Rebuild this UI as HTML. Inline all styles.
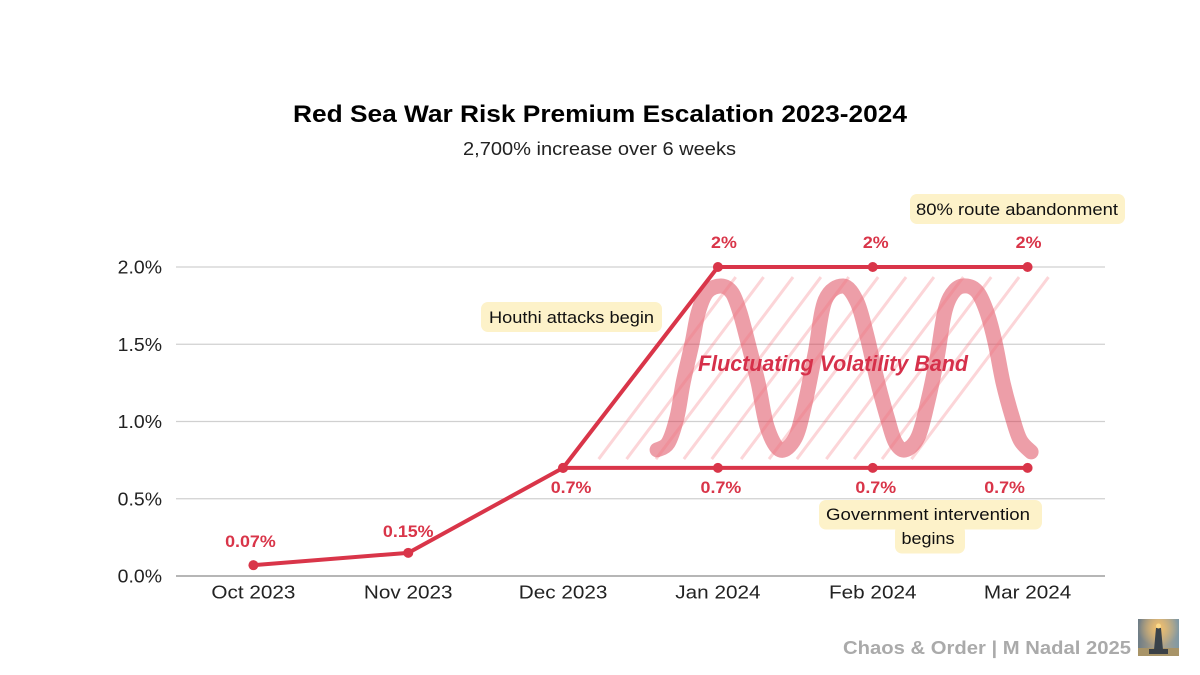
<!DOCTYPE html>
<html lang="en">
<head>
<meta charset="utf-8">
<title>Red Sea War Risk Premium Escalation 2023-2024</title>
<style>
html,body{margin:0;padding:0;background:#fff;width:1200px;height:675px;overflow:hidden}
svg{display:block}
text{font-family:"Liberation Sans",sans-serif}
</style>
</head>
<body>
<svg id="chart" width="1200" height="675" viewBox="0 0 1200 675" xmlns="http://www.w3.org/2000/svg">
  <defs>
    <linearGradient id="thumbSky" x1="0" y1="0" x2="1" y2="0">
      <stop offset="0" stop-color="#6d7c86"/><stop offset="0.5" stop-color="#b9a686"/><stop offset="1" stop-color="#7f98a4"/>
    </linearGradient>
    <radialGradient id="thumbGlow" cx="0.5" cy="0.25" r="0.5">
      <stop offset="0" stop-color="#f6c26b" stop-opacity="0.95"/><stop offset="1" stop-color="#f6c26b" stop-opacity="0"/>
    </radialGradient>
  </defs>
  <rect width="1200" height="675" fill="#ffffff"/>
  <text x="293" y="122" font-size="24" font-weight="700" fill="#000" textLength="614" lengthAdjust="spacingAndGlyphs">Red Sea War Risk Premium Escalation 2023-2024</text>
  <text x="463" y="155" font-size="18" fill="#222" textLength="273" lengthAdjust="spacingAndGlyphs">2,700% increase over 6 weeks</text>
  <g id="grid"></g>
  <g id="yticks"></g>
  <g id="xticks"></g>
  <g id="wave"></g>
  <g id="hatch"></g>
  <g id="lines"></g>
  <g id="points"></g>
  <g id="labels"></g>
  <text x="698" y="371" font-size="22" font-weight="700" font-style="italic" fill="#d6304a" textLength="270" lengthAdjust="spacingAndGlyphs">Fluctuating Volatility Band</text>

  <g>
    <rect x="481" y="302" width="181" height="30" rx="7" fill="#fdf2c9"/>
    <text x="489" y="323" font-size="16.5" fill="#111" textLength="165" lengthAdjust="spacingAndGlyphs">Houthi attacks begin</text>
  </g>
  <g>
    <rect x="910" y="194" width="215" height="30" rx="7" fill="#fdf2c9"/>
    <text x="916" y="215" font-size="16.5" fill="#111" textLength="202" lengthAdjust="spacingAndGlyphs">80% route abandonment</text>
  </g>
  <g>
    <rect x="819" y="500" width="223" height="29.5" rx="7" fill="#fdf2c9"/>
    <rect x="895" y="525" width="70" height="28.5" rx="7" fill="#fdf2c9"/>
    <text x="826" y="520" font-size="16.5" fill="#111" textLength="204" lengthAdjust="spacingAndGlyphs">Government intervention</text>
    <text x="901.5" y="544" font-size="16.5" fill="#111" textLength="53" lengthAdjust="spacingAndGlyphs">begins</text>
  </g>

  <text x="843" y="654" font-size="18" font-weight="700" fill="#aaaaaa" textLength="288" lengthAdjust="spacingAndGlyphs">Chaos &amp; Order | M Nadal 2025</text>
  <g>
    <rect x="1138" y="619" width="41" height="37" fill="url(#thumbSky)"/>
    <rect x="1138" y="619" width="41" height="37" fill="url(#thumbGlow)"/>
    <rect x="1138" y="648" width="41" height="8" fill="#a89468"/>
    <polygon points="1156,628 1161,628 1163,650 1154,650" fill="#39424a"/>
    <rect x="1149" y="649" width="19" height="5" fill="#3a4046"/>
    <circle cx="1158.5" cy="626" r="2.5" fill="#fbd98a"/>
  </g>
</svg>
<script>
// ---- chart data ----
const months = ['Oct 2023', 'Nov 2023', 'Dec 2023', 'Jan 2024', 'Feb 2024', 'Mar 2024'];
const upperValues = [0.07, 0.15, 0.7, 2, 2, 2];
const upperLabels = ['0.07%', '0.15%', '0.7%', '2%', '2%', '2%'];
const lowerMonths = [2, 3, 4, 5];
const lowerValues = [0.7, 0.7, 0.7, 0.7];
const lowerLabels = ['0.7%', '0.7%', '0.7%', '0.7%'];
const yTickValues = [0, 0.5, 1, 1.5, 2];
const yTickLabels = ['0.0%', '0.5%', '1.0%', '1.5%', '2.0%'];
// Volatility wave: month position and premium %
const waveMonths = [2.607, 2.678, 2.736, 2.775, 2.833, 2.872, 2.930, 3.021, 3.092, 3.143, 3.195, 3.260, 3.318, 3.402, 3.499, 3.563, 3.628, 3.693, 3.810, 3.899, 3.964, 4.028, 4.093, 4.145, 4.209, 4.293, 4.358, 4.416, 4.468, 4.532, 4.610, 4.681, 4.739, 4.791, 4.842, 4.901, 4.952, 5.023];
const waveValues = [0.816, 0.861, 1.029, 1.249, 1.508, 1.702, 1.838, 1.877, 1.832, 1.702, 1.508, 1.249, 0.964, 0.816, 0.893, 1.120, 1.443, 1.786, 1.877, 1.773, 1.547, 1.269, 1.029, 0.867, 0.816, 0.900, 1.139, 1.417, 1.722, 1.851, 1.877, 1.832, 1.702, 1.508, 1.249, 1.029, 0.880, 0.803];
// Hatch band: month position where each stripe starts, and band limits in %
const hatchStarts = [2.23, 2.41, 2.60, 2.78, 2.96, 3.15, 3.33, 3.51, 3.70, 3.88, 4.06, 4.25];
const hatchRange = [0.757, 1.935];
const hatchRun = [0.885];

// ---- axes ----
const NS = 'http://www.w3.org/2000/svg';
const plotLeft = 176, plotRight = 1105, plotBottom = 576, plotTop = 267;
const x = i => plotLeft + (plotRight - plotLeft) * (i + 0.5) / months.length;
const y = v => plotBottom - (plotBottom - plotTop) * v / 2;
const RED = '#d93549';

function make(tag, parentId, attrs) {
  const el = document.createElementNS(NS, tag);
  for (const k in attrs) el.setAttribute(k, attrs[k]);
  document.getElementById(parentId).appendChild(el);
  return el;
}
function stretch(el, factor) {
  const w = el.getComputedTextLength();
  el.setAttribute('textLength', (w * factor).toFixed(1));
  el.setAttribute('lengthAdjust', 'spacingAndGlyphs');
}

// gridlines and y ticks
yTickValues.forEach((v, i) => {
  const g = make('line', 'grid', {x1: plotLeft, x2: plotRight, y1: y(v), y2: y(v), stroke: v === 0 ? '#8a8a8a' : '#d0d0d0', 'stroke-width': 1.2});
  
  
  const t = make('text', 'yticks', {x: 162, y: y(v) + 6.5, 'font-size': 18, 'text-anchor': 'end', fill: '#222'});
  t.textContent = yTickLabels[i];
  
  
  stretch(t, 1.08);
});

// x ticks
months.forEach((m, i) => {
  const t = make('text', 'xticks', {x: x(i), y: 598.5, 'font-size': 18, 'text-anchor': 'middle', fill: '#222'});
  t.textContent = m;
  
  
  stretch(t, 1.15);
});

// hatch stripes
hatchStarts.forEach(s => {
  const h = make('line', 'hatch', {x1: x(s), y1: y(hatchRange[0]), x2: x(s + hatchRun[0]), y2: y(hatchRange[1]), stroke: '#f4737f', 'stroke-opacity': 0.3, 'stroke-width': 3});
  
  
});

// wave (smooth curve through the read points)
const wavePts = waveMonths.map((m, i) => [x(m), y(waveValues[i])]);
let waveD = 'M' + wavePts[0][0].toFixed(1) + ' ' + wavePts[0][1].toFixed(1);
for (let i = 0; i < wavePts.length - 1; i++) {
  const p0 = wavePts[Math.max(0, i - 1)], p1 = wavePts[i], p2 = wavePts[i + 1], p3 = wavePts[Math.min(wavePts.length - 1, i + 2)];
  const c1x = p1[0] + (p2[0] - p0[0]) / 6, c1y = p1[1] + (p2[1] - p0[1]) / 6;
  const c2x = p2[0] - (p3[0] - p1[0]) / 6, c2y = p2[1] - (p3[1] - p1[1]) / 6;
  waveD += ' C' + [c1x, c1y, c2x, c2y, p2[0], p2[1]].map(n => n.toFixed(1)).join(' ');
}
const wave = make('path', 'wave', {d: waveD, fill: 'none', stroke: RED, 'stroke-opacity': 0.48, 'stroke-width': 15, 'stroke-linecap': 'round', 'stroke-linejoin': 'round'});



// series lines
const upperPath = upperValues.map((v, i) => (i ? 'L' : 'M') + x(i) + ' ' + y(v)).join(' ');
const upper = make('path', 'lines', {d: upperPath, fill: 'none', stroke: RED, 'stroke-width': 4, 'stroke-linejoin': 'round'});


const lowerPath = lowerValues.map((v, i) => (i ? 'L' : 'M') + x(lowerMonths[i]) + ' ' + y(v)).join(' ');
const lower = make('path', 'lines', {d: lowerPath, fill: 'none', stroke: RED, 'stroke-width': 4});



// points
upperValues.forEach((v, i) => {
  const c = make('circle', 'points', {cx: x(i), cy: y(v), r: 5, fill: RED});
  
  
});
lowerValues.forEach((v, i) => {
  const c = make('circle', 'points', {cx: x(lowerMonths[i]), cy: y(v), r: 5, fill: RED});
  
  
});

// value labels, anchored on the data point with a small offset
function valueLabel(px, py, text, dx, dy) {
  const t = make('text', 'labels', {x: px + dx, y: py + dy, 'font-size': 17, 'font-weight': 700, 'text-anchor': 'middle', fill: RED});
  t.textContent = text;
  
  
  stretch(t, 1.05);
}
valueLabel(x(0), y(upperValues[0]), upperLabels[0], -3, -18);
valueLabel(x(1), y(upperValues[1]), upperLabels[1], 0, -16);
valueLabel(x(3), y(upperValues[3]), upperLabels[3], 6, -19);
valueLabel(x(4), y(upperValues[4]), upperLabels[4], 3, -19);
valueLabel(x(5), y(upperValues[5]), upperLabels[5], 1, -19);
valueLabel(x(lowerMonths[0]), y(lowerValues[0]), lowerLabels[0], 8, 25);
valueLabel(x(lowerMonths[1]), y(lowerValues[1]), lowerLabels[1], 3, 25);
valueLabel(x(lowerMonths[2]), y(lowerValues[2]), lowerLabels[2], 3, 25);
valueLabel(x(lowerMonths[3]), y(lowerValues[3]), lowerLabels[3], -23, 25);
</script>
</body>
</html>
